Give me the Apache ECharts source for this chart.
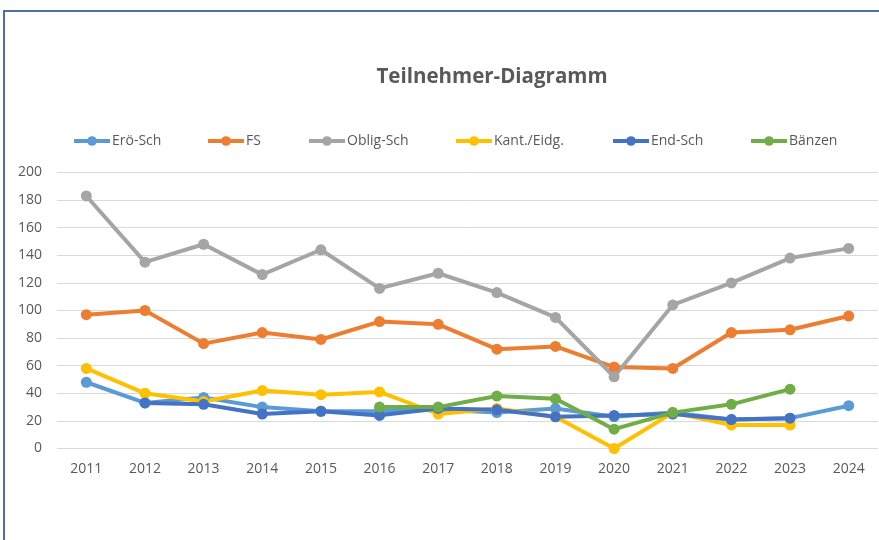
<!DOCTYPE html>
<html>
<head>
<meta charset="utf-8">
<script src="https://cdn.jsdelivr.net/npm/echarts@6/dist/echarts.min.js"></script>
<style>
  html, body { margin: 0; padding: 0; background: #fff; }
  #chart { width: 879px; height: 540px; }
</style>
</head>
<body>
<div id="chart"></div>
<script>
const years = ['2011', '2012', '2013', '2014', '2015', '2016', '2017', '2018', '2019', '2020', '2021', '2022', '2023', '2024']
const seriesNames = ['Erö-Sch', 'FS', 'Oblig-Sch', 'Kant./Eidg.', 'End-Sch', 'Bänzen']
const eroSch = [48, 33, 37, 30, 27, 27, 28, 26, 29, 23, 26, 21, 22, 31]
const fs = [97, 100, 76, 84, 79, 92, 90, 72, 74, 59, 58, 84, 86, 96]
const obligSch = [183, 135, 148, 126, 144, 116, 127, 113, 95, 52, 104, 120, 138, 145]
const kantEidg = [58, 40, 34, 42, 39, 41, 25, 29, 23, 0, 26, 17, 17, null]
const endSch = [null, 33, 32, 25, 27, 24, 29, 28, 23, 24, 25, 21, 22, null]
const baenzen = [null, null, null, null, null, 30, 30, 38, 36, 14, 26, 32, 43, null]
const colors = ['#5B9BD5', '#ED7D31', '#A5A5A5', '#FFC000', '#4472C4', '#70AD47']
const legendLeft = [72, 206, 307, 454, 611, 749]

const allData = [eroSch, fs, obligSch, kantEidg, endSch, baenzen]
const textColor = '#595959'
const font = "'Open Sans', sans-serif"

const chart = echarts.init(document.getElementById('chart'))
const option = {
  animation: false,
  color: colors,
  title: {
    text: 'Teilnehmer-Diagramm',
    left: 487,
    top: 62,
    textAlign: 'center',
    textStyle: { color: textColor, fontSize: 20.5, fontWeight: 'bold', fontFamily: font }
  },
  legend: seriesNames.map((n, i) => ({
    data: [n],
    left: legendLeft[i],
    top: 134,
    padding: 0,
    itemWidth: 36,
    itemHeight: 12,
    itemGap: 0,
    lineStyle: { width: 4 },
    textStyle: { color: textColor, fontSize: 14, fontFamily: font, padding: [0, 0, 0, -3] }
  })),
  graphic: [{
    type: 'rect',
    shape: { x: 4, y: 11, width: 1000, height: 700 },
    style: { fill: 'none', stroke: '#4F6FA8', lineWidth: 2 },
    silent: true
  }],
  grid: { left: 57, right: 1, top: 172.5, bottom: 91.5 },
  xAxis: {
    type: 'category',
    data: years,
    boundaryGap: true,
    axisLine: { show: false },
    axisTick: { show: false },
    axisLabel: { color: textColor, fontSize: 14, fontFamily: font, margin: 14 }
  },
  yAxis: {
    type: 'value',
    min: 0,
    max: 200,
    interval: 20,
    axisLine: { show: false },
    axisTick: { show: false },
    axisLabel: { color: textColor, fontSize: 14, fontFamily: font, margin: 15 },
    splitLine: { lineStyle: { color: '#D9D9D9', width: 1 } }
  },
  series: seriesNames.map((n, i) => ({
    name: n,
    type: 'line',
    data: allData[i],
    symbol: 'circle',
    symbolSize: 11,
    lineStyle: { width: 4, color: colors[i] },
    itemStyle: { color: colors[i] },
    connectNulls: false
  }))
}
chart.setOption(option)
</script>
</body>
</html>
